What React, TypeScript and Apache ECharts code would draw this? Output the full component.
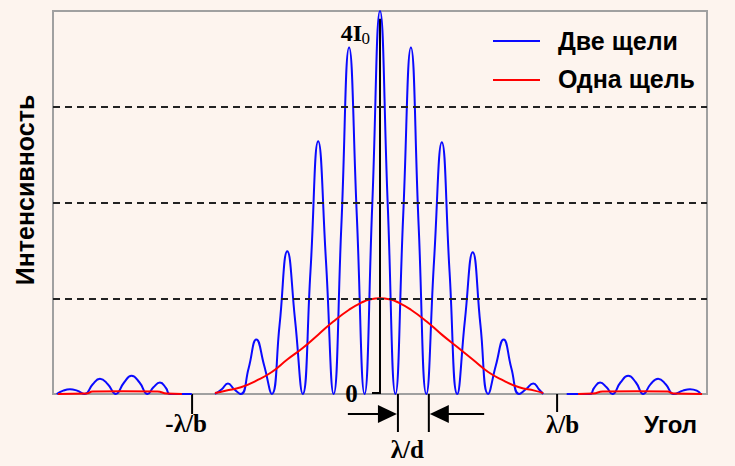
import React, { useEffect, useRef } from "react";
import * as echarts from "echarts";

// Angle in units of λ/d (fringe period); intensity in units of I0
const blueAngles = [
  -10.46, -10.25, -10.03, -9.8, -9.55, -9.3, -9.06, -8.8, -8.55, -8.28, -8.04, -7.78, -7.52, -7.33, -7.12, -6.92, -6.8, -6.09,
  -5.7,
  -5.34, -5.12, -4.92, -4.72, -4.5, -4.25, -4.0, -3.75, -3.5, -3.25, -3.0, -2.75, -2.5, -2.25, -2.0, -1.75, -1.5, -1.25, -1.0, -0.75, -0.5, -0.25,
  0,
  0.25, 0.5, 0.75, 1.0, 1.25, 1.5, 1.75, 2.0, 2.25, 2.5, 2.75, 3.0, 3.25, 3.5, 3.75, 4.0, 4.25, 4.5, 4.72, 4.96, 5.14, 5.28,
  5.7,
  6.04, 6.8, 6.92, 7.12, 7.33, 7.52, 7.78, 8.03, 8.28, 8.52, 8.75, 9.0, 9.25, 9.5, 9.8, 10.03, 10.25, 10.38,
];
const blueValues = [
  0, 0.035, 0.05, 0.035, 0, 0.1, 0.16, 0.1, 0, 0.12, 0.19, 0.12, 0, 0.07, 0.12, 0.06, 0, 0,
  null,
  0, 0.05, 0.11, 0.05, 0, 0.27, 0.57, 0.3, 0, 0.72, 1.49, 0.78, 0, 1.28, 2.64, 1.4, 0, 1.76, 3.62, 1.86, 0, 1.98,
  4.0,
  1.98, 0, 1.86, 3.62, 1.76, 0, 1.4, 2.63, 1.28, 0, 0.78, 1.48, 0.72, 0, 0.3, 0.57, 0.27, 0, 0.05, 0.11, 0.05, 0,
  null,
  0, 0, 0.06, 0.12, 0.07, 0, 0.12, 0.19, 0.12, 0, 0.1, 0.16, 0.1, 0, 0.035, 0.05, 0.035, 0,
];
const redAngles = [
  -10.42, -9.5, -9.3, -8.3, -7.2, -6.9, -6.41,
  -5.8,
  -5.34, -5.0, -4.5, -4.0, -3.5, -3.0, -2.5, -2.0, -1.5, -1.0, -0.6, -0.3, 0, 0.3, 0.6, 1.0, 1.5, 2.0, 2.5, 3.0, 3.5, 4.0, 4.5, 5.0, 5.28,
  5.8,
  6.41, 6.9, 7.2, 8.3, 9.3, 9.5, 10.42,
];
const redValues = [
  0, 0.005, 0.025, 0.03, 0.025, 0.005, 0,
  null,
  0.01, 0.035, 0.07, 0.14, 0.23, 0.36, 0.48, 0.62, 0.76, 0.88, 0.955, 0.99, 1.0, 0.99, 0.955, 0.88, 0.76, 0.62, 0.49, 0.36, 0.23, 0.14, 0.07, 0.035, 0.01,
  null,
  0, 0.005, 0.025, 0.03, 0.025, 0.005, 0,
];
const dashedLevels = [1, 2, 3];
const seriesNames = ["Две щели", "Одна щель"];
const xRange = [-10.58, 10.58];
const yRange = [0, 4];
const lambdaOverB = [-6.08, 5.73];
const lambdaOverD = [0.58, 1.58];
const arrowEnds = [-1.04, 3.37];

const BG = "#fdf4ee";
const BLUE = "#0a0aff";
const RED = "#ff0000";
const SANS = "'Liberation Sans', Arial, sans-serif";
const SERIF = "'Liberation Serif', 'Times New Roman', serif";

export default function App() {
  const ref = useRef<HTMLDivElement>(null);
  useEffect(() => {
    document.body.style.margin = "0";
    const chart = echarts.init(ref.current!, null, { renderer: "svg" });
    chart.setOption({
      animation: false,
      backgroundColor: BG,
      grid: { left: 53, right: 28, top: 11, bottom: 72, show: true, borderColor: "#a0a0a0", borderWidth: 2, backgroundColor: "transparent" },
      xAxis: {
        type: "value", min: xRange[0], max: xRange[1],
        axisLine: { show: false }, axisTick: { show: false }, axisLabel: { show: false }, splitLine: { show: false },
      },
      yAxis: {
        type: "value", min: yRange[0], max: yRange[1], interval: 1,
        axisLine: { show: false }, axisTick: { show: false }, axisLabel: { show: false }, splitLine: { show: false },
      },
      series: [
        {
          type: "line", name: "levels", data: [], z: 1, silent: true,
          markLine: {
            silent: true, symbol: ["none", "none"], label: { show: false },
            lineStyle: { type: [7, 5], color: "#222", width: 2 },
            data: dashedLevels.map((v) => ({ yAxis: v })),
          },
        },
        {
          type: "line", name: seriesNames[0], z: 3, smooth: true, showSymbol: false, connectNulls: false,
          lineStyle: { color: BLUE, width: 2 }, itemStyle: { color: BLUE },
          data: blueAngles.map((u, i) => [u, blueValues[i] === null ? "-" : blueValues[i]]),
        },
        {
          type: "line", name: seriesNames[1], z: 4, smooth: true, showSymbol: false, connectNulls: false,
          lineStyle: { color: RED, width: 2 }, itemStyle: { color: RED },
          data: redAngles.map((u, i) => [u, redValues[i] === null ? "-" : redValues[i]]),
        },
      ],
    });

    const p = (u: number, v: number) => chart.convertToPixel({ gridIndex: 0 } as any, [u, v]) as number[];
    const [x0, y0] = p(0, 0);
    const [, yTop] = p(0, yRange[1]);
    const [, yLine] = p(0, 3.92);
    const [xRight] = p(xRange[1], 0);
    const [xl] = p(lambdaOverB[0], 0);
    const [xr] = p(lambdaOverB[1], 0);
    const [xd1] = p(lambdaOverD[0], 0);
    const [xd2] = p(lambdaOverD[1], 0);
    const [xa1] = p(arrowEnds[0], 0);
    const [xa2] = p(arrowEnds[1], 0);
    const ay = y0 + 20;
    const lineStyle = { stroke: "#000", lineWidth: 2 };
    const boldSerif = (size: number) => ({ fontFamily: SERIF, fontWeight: "bold", fontSize: size, fill: "#000" });
    const boldSans = (size: number) => ({ fontFamily: SANS, fontWeight: "bold", fontSize: size, fill: "#000" });

    chart.setOption({
      graphic: [
        { type: "line", z: 2, shape: { x1: x0, y1: yLine, x2: x0, y2: y0 }, style: lineStyle },
        { type: "line", z: 2, shape: { x1: x0 - 8, y1: y0 - 1, x2: x0, y2: y0 - 1 }, style: lineStyle },
        { type: "text", x: x0 - 18, y: yTop + 22, style: { text: "4I", ...boldSerif(24), align: "right", verticalAlign: "middle" } },
        { type: "text", x: x0 - 18.5, y: yTop + 27, style: { text: "0", fontFamily: SERIF, fontSize: 17, fill: "#000", align: "left", verticalAlign: "middle" } },
        { type: "text", x: x0 - 28.5, y: y0 - 1, style: { text: "0", ...boldSerif(25), align: "center", verticalAlign: "middle" } },
        { type: "line", shape: { x1: xl, y1: y0, x2: xl, y2: y0 + 20 }, style: lineStyle },
        { type: "line", shape: { x1: xr, y1: y0, x2: xr, y2: y0 + 18 }, style: lineStyle },
        { type: "text", x: xl - 6, y: y0 + 29, style: { text: "-λ/b", ...boldSerif(25), align: "center", verticalAlign: "middle" } },
        { type: "text", x: xr + 5.5, y: y0 + 30, style: { text: "λ/b", ...boldSerif(25), align: "center", verticalAlign: "middle" } },
        { type: "text", x: xRight - 10, y: y0 + 30, style: { text: "Угол", ...boldSans(24), align: "right", verticalAlign: "middle" } },
        { type: "line", shape: { x1: xd1, y1: y0, x2: xd1, y2: y0 + 38 }, style: lineStyle },
        { type: "line", shape: { x1: xd2, y1: y0, x2: xd2, y2: y0 + 38 }, style: lineStyle },
        { type: "line", shape: { x1: xa1, y1: ay, x2: xd1 - 18, y2: ay }, style: lineStyle },
        { type: "polygon", shape: { points: [[xd1 - 1, ay], [xd1 - 20, ay - 9], [xd1 - 20, ay + 9]] }, style: { fill: "#000" } },
        { type: "line", shape: { x1: xd2 + 18, y1: ay, x2: xa2, y2: ay }, style: lineStyle },
        { type: "polygon", shape: { points: [[xd2 + 1, ay], [xd2 + 20, ay - 9], [xd2 + 20, ay + 9]] }, style: { fill: "#000" } },
        { type: "text", x: (xd1 + xd2) / 2 - 6, y: y0 + 55, style: { text: "λ/d", ...boldSerif(25), align: "center", verticalAlign: "middle" } },
        { type: "text", x: 25, y: 190, rotation: Math.PI / 2, style: { text: "Интенсивность", ...boldSans(25), align: "center", verticalAlign: "middle" } },
        { type: "line", shape: { x1: 493, y1: 41, x2: 540, y2: 41 }, style: { stroke: BLUE, lineWidth: 2 } },
        { type: "text", x: 558, y: 41, style: { text: seriesNames[0], ...boldSans(25), align: "left", verticalAlign: "middle" } },
        { type: "line", shape: { x1: 493, y1: 80, x2: 540, y2: 80 }, style: { stroke: RED, lineWidth: 2 } },
        { type: "text", x: 558, y: 79, style: { text: seriesNames[1], ...boldSans(25), align: "left", verticalAlign: "middle" } },
      ],
    });
    return () => chart.dispose();
  }, []);
  return <div ref={ref} style={{ width: 735, height: 466, background: BG }} />;
}
